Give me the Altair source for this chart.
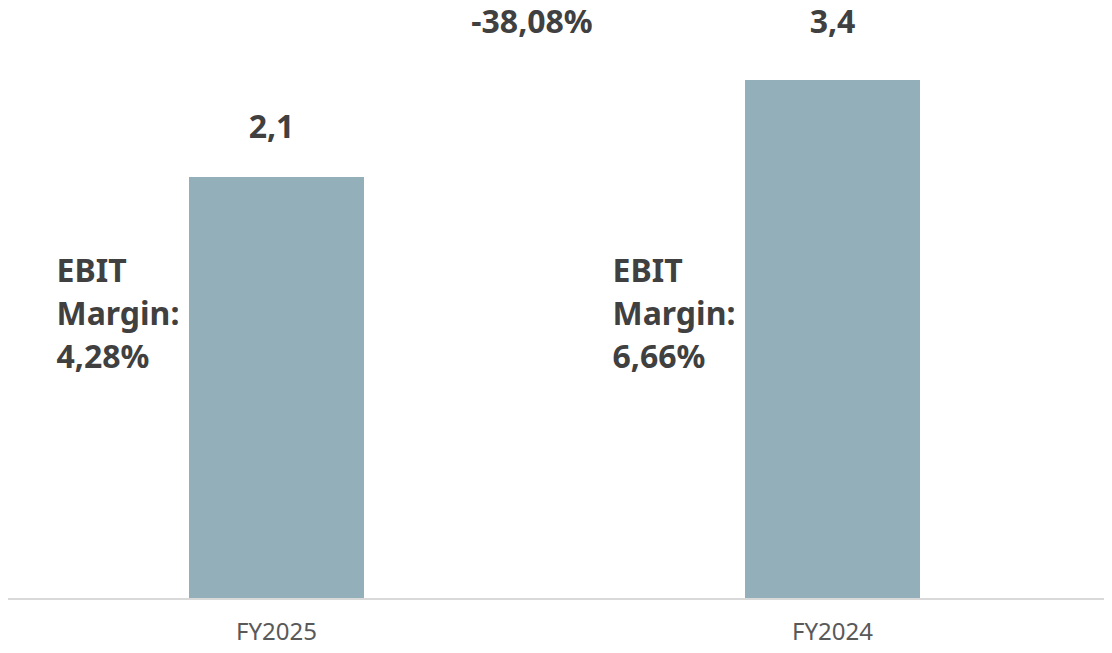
import altair as alt
import pandas as pd

categories = ["FY2025", "FY2024"]
ebit_values = [2.1, 3.4]
value_labels = ["2,1", "3,4"]
margin_labels = [["EBIT", "Margin:", "4,28%"], ["EBIT", "Margin:", "6,66%"]]
change_label = "-38,08%"

df = pd.DataFrame({
    "cat": categories,
    "val": ebit_values,
    "lab": value_labels,
    "margin": margin_labels,
})

W, H = 1096, 591
FONT = "Noto Sans"
DARK = "#404040"
YMIN, YMAX = -3.557, 4.365

xs = alt.Scale(domain=categories, range=[181, 912], paddingInner=0.6853, paddingOuter=0)
ys = alt.Scale(domain=[YMIN, YMAX], zero=False, nice=False)

x_enc = alt.X("cat:N", scale=xs, sort=categories,
              axis=alt.Axis(title=None, domain=False, ticks=False, labelAngle=0,
                            labelFont=FONT, labelFontSize=24, labelColor="#595959",
                            labelPadding=21))

base = alt.Chart(df)

bars = base.mark_bar(color="#93AFB9").encode(
    x=x_enc,
    y=alt.Y("val:Q", scale=ys, axis=None),
    y2=alt.datum(YMIN),
)

baseline = base.mark_rule(color="#d9d9d9", strokeWidth=2).encode(
    x=alt.value(0), x2=alt.value(W), y=alt.value(H)
)

lab1 = base.transform_filter(alt.datum.cat == "FY2025").mark_text(
    font=FONT, fontSize=32, fontWeight="bold", color=DARK, baseline="alphabetic", dy=-39, dx=-5
).encode(x=alt.X("cat:N", scale=xs, sort=categories), y=alt.Y("val:Q", scale=ys), text="lab:N")

lab2 = base.transform_filter(alt.datum.cat == "FY2024").mark_text(
    font=FONT, fontSize=32, fontWeight="bold", color=DARK, baseline="alphabetic", dy=-47
).encode(x=alt.X("cat:N", scale=xs, sort=categories), y=alt.Y("val:Q", scale=ys), text="lab:N")

margins = base.mark_text(
    font=FONT, fontSize=32, fontWeight="bold", color=DARK, align="left",
    baseline="alphabetic", lineHeight=43, dx=-220
).encode(x=alt.X("cat:N", scale=xs, sort=categories), y=alt.value(273.5), text="margin")

change = alt.Chart(pd.DataFrame({"t": [change_label]})).mark_text(
    font=FONT, fontSize=32, fontWeight="bold", color=DARK, align="center", baseline="alphabetic"
).encode(x=alt.value(524), y=alt.value(25), text="t:N")

chart = alt.layer(bars, baseline, lab1, lab2, margins, change).properties(
    width=W, height=H,
    padding={"left": 0, "top": 0, "right": 0, "bottom": 46},
    autosize=alt.AutoSizeParams(type="none"),
).configure_view(stroke=None)

chart.save("out.html", embed_options={"renderer": "svg", "actions": False})
